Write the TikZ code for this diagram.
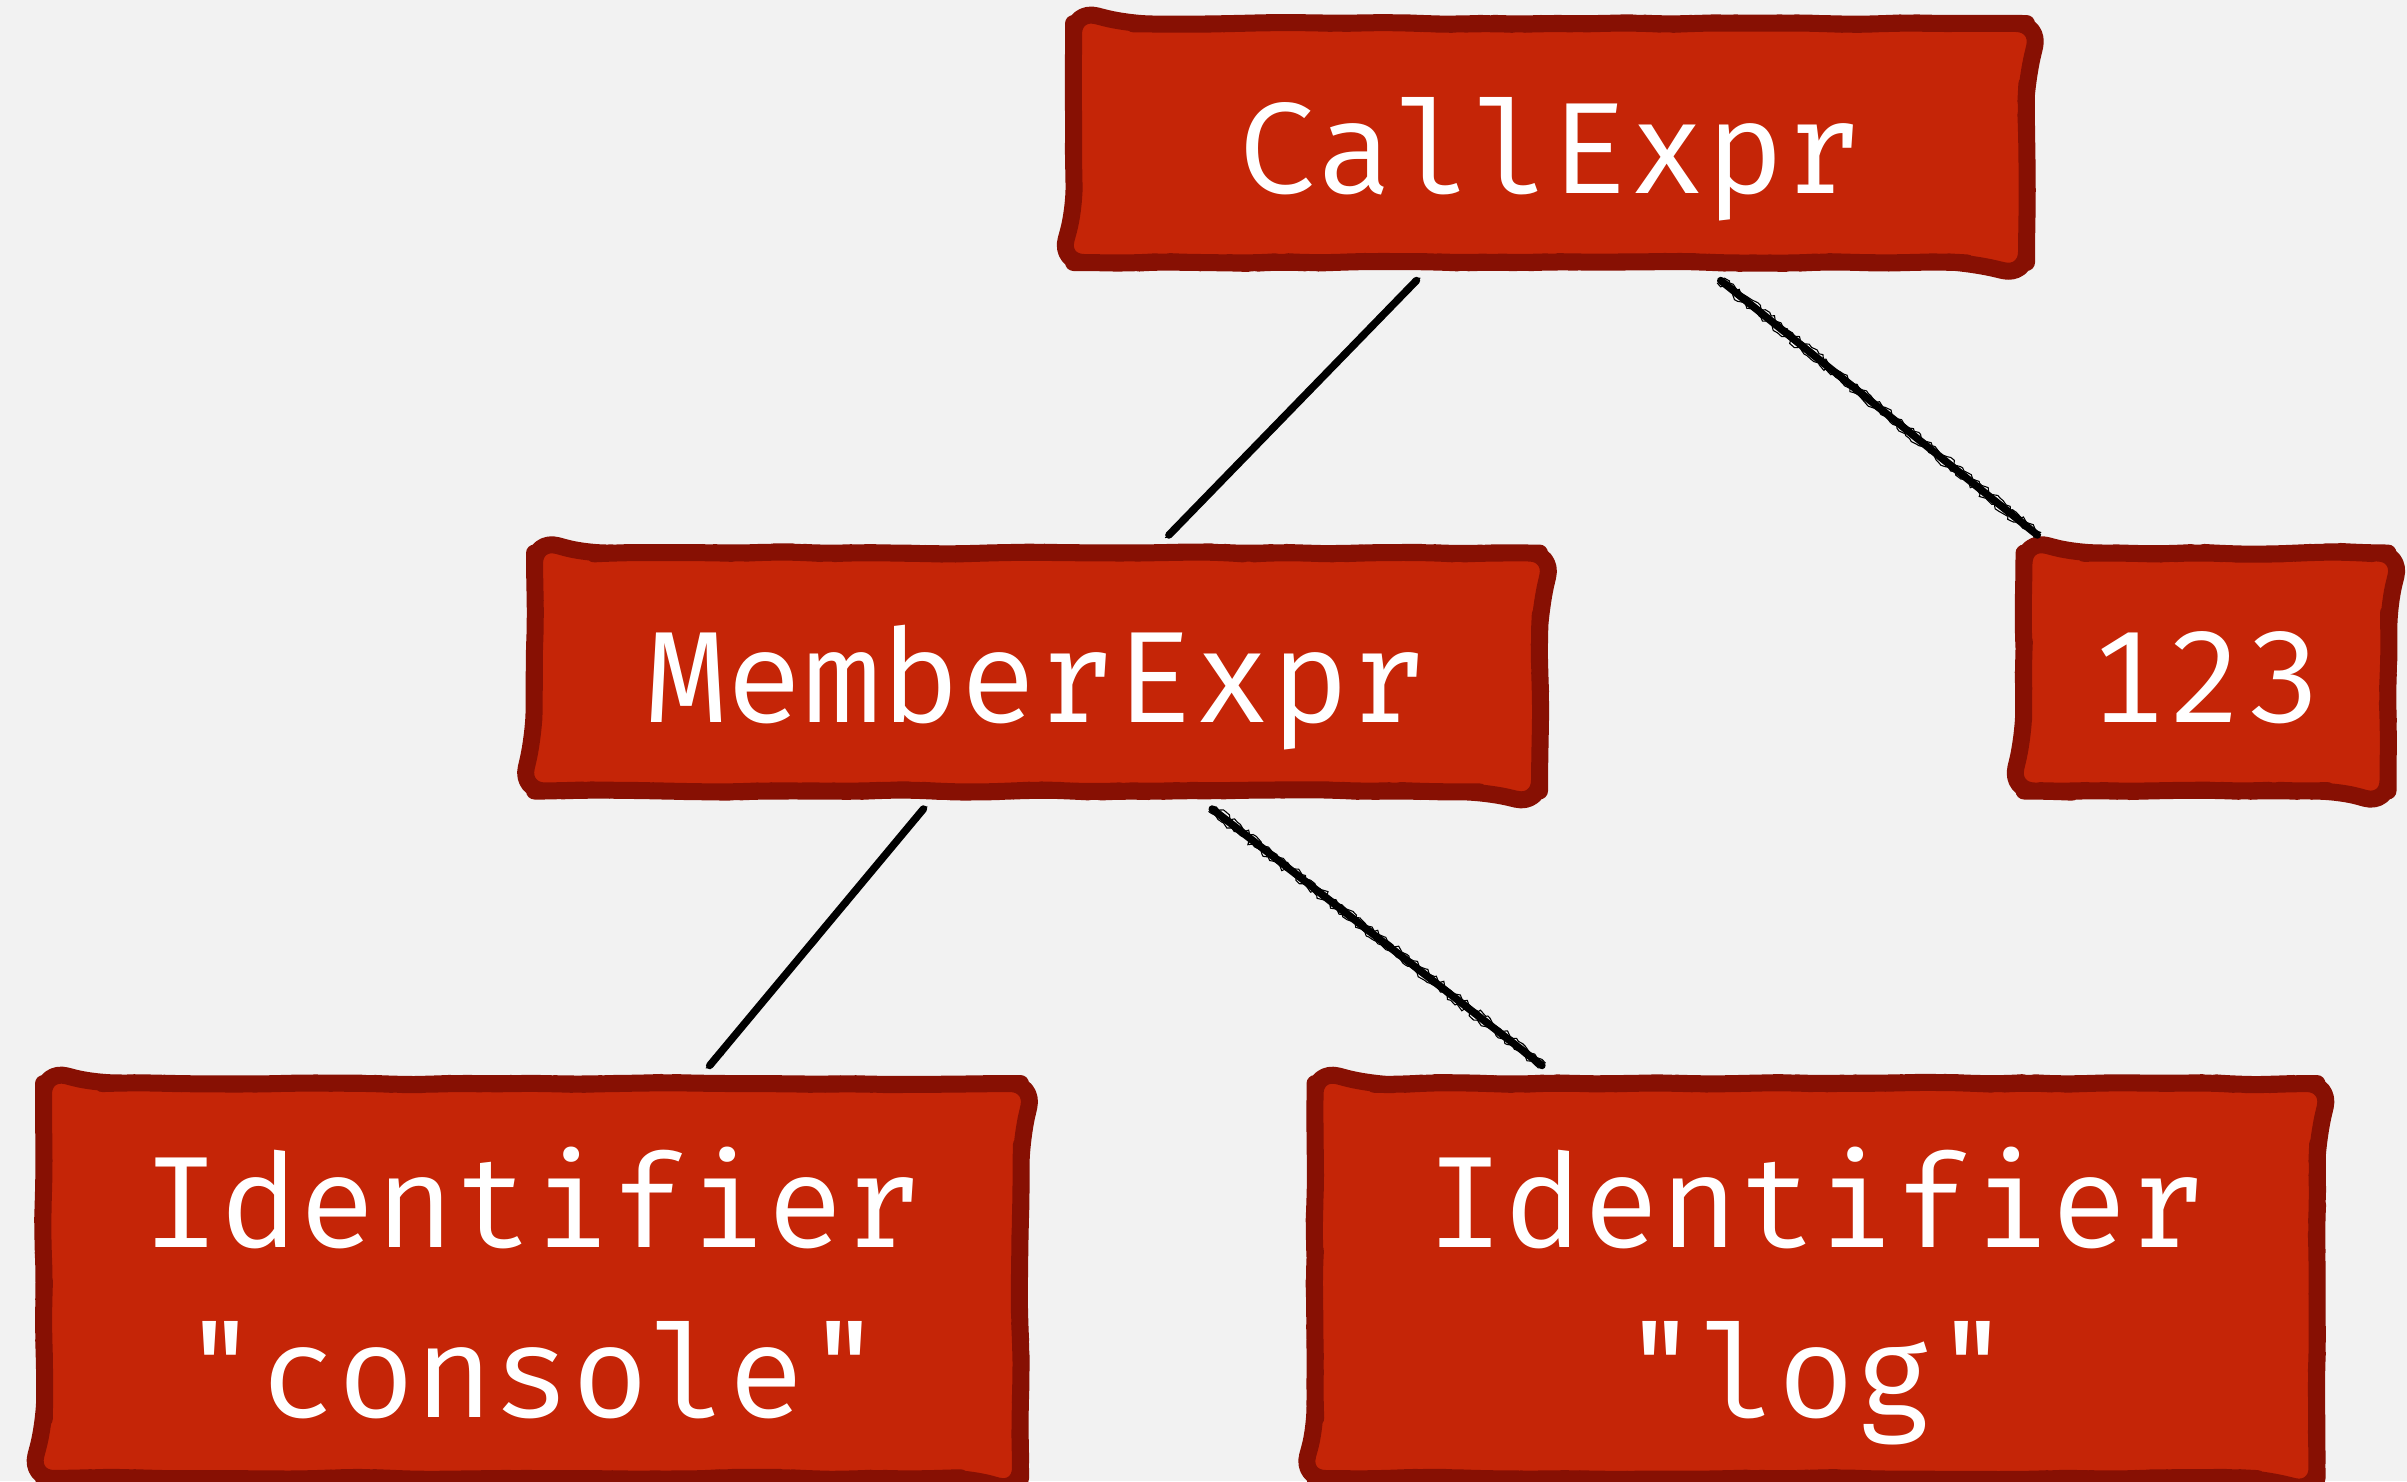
\documentclass[tikz,border=0pt]{standalone}
\usepackage{fontspec}
\IfFontExistsTF{Fira Mono}{\setmonofont{Fira Mono}}{\setmonofont{DejaVu Sans Mono}}
\usetikzlibrary{decorations.pathmorphing,backgrounds}
\definecolor{bg}{HTML}{F2F2F2}
\definecolor{boxred}{HTML}{C52507}
\definecolor{boxedge}{HTML}{871003}
\begin{document}
\begin{tikzpicture}[x=1pt,y=-1pt,
  box/.style={text=white, font=\ttfamily\fontsize{130}{170}\selectfont,
    inner sep=0pt, outer sep=18pt},
  oneline/.style={text height=100pt, text depth=0pt},
  twoline/.style={text height=100pt, text depth=168pt},
  boxpath/.style={draw=boxedge, fill=boxred, line width=17pt, line join=round,
    decorate, decoration={random steps,segment length=30pt,amplitude=1.3pt},
    rounded corners=24pt},
  link/.style={draw=black, line width=7.5pt, line cap=round},
  linkfuzz/.style={draw=black, line width=1.6pt, line cap=round,
    decorate, decoration={random steps,segment length=4pt,amplitude=2.2pt}}
]
\pgfmathsetseed{11}
\useasboundingbox (0,0) rectangle (2407,1481);

\node[box, oneline, minimum width=953pt, minimum height=239pt] (call) at (1550,143) {CallExpr};
\node[box, oneline, minimum width=1005pt, minimum height=238pt] (member) at (1037,672) {MemberExpr};
\node[box, oneline, minimum width=364pt, minimum height=238pt] (num) at (2206,672) {123};
\node[box, twoline, minimum width=977pt, minimum height=395pt] (console) at (532,1281)
  {\begin{tabular}[t]{@{}c@{}}Identifier\\"console"\end{tabular}};
\node[box, twoline, minimum width=1002pt, minimum height=395pt] (log) at (1816,1281)
  {\begin{tabular}[t]{@{}c@{}}Identifier\\"log"\end{tabular}};

\begin{scope}[on background layer]
  \fill[bg] (0,0) rectangle (2407,1481);
  \foreach \n in {call,member,num,console,log}{
    \path[boxpath] ([xshift=18pt]\n.west) |- ([xshift=-18pt,yshift=-18pt]\n.north east)
      |- ([xshift=18pt,yshift=18pt]\n.south west) -- cycle;
  }
\end{scope}

\foreach \a/\b in {call/member, call/num, member/console, member/log}{
  \draw[link] (\a) -- (\b);
  \draw[linkfuzz] (\a) -- (\b);
  \draw[linkfuzz, line width=1.1pt, transform canvas={shift={(3.5pt,2.5pt)}}] (\a) -- (\b);
  \draw[linkfuzz, line width=1.1pt, transform canvas={shift={(-3.5pt,-2.5pt)}}] (\a) -- (\b);
}
\end{tikzpicture}
\end{document}
